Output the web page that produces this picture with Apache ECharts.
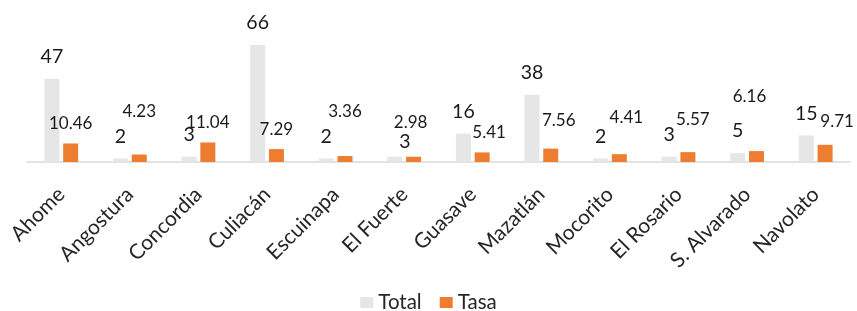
<!DOCTYPE html>
<html>
<head>
<meta charset="utf-8">
<script src="https://cdn.jsdelivr.net/npm/echarts@6/dist/echarts.min.js"></script>
<style>
  html, body { margin: 0; padding: 0; background: #fff; }
  #chart { width: 857px; height: 311px; }
</style>
</head>
<body>
<div id="chart"></div>
<script>
const municipios = ['Ahome', 'Angostura', 'Concordia', 'Culiacán', 'Escuinapa', 'El Fuerte',
  'Guasave', 'Mazatlán', 'Mocorito', 'El Rosario', 'S. Alvarado', 'Navolato']
const total = [47, 2, 3, 66, 2, 3, 16, 38, 2, 3, 5, 15]
const tasa = [10.46, 4.23, 11.04, 7.29, 3.36, 2.98, 5.41, 7.56, 4.41, 5.57, 6.16, 9.71]

// label nudges (the source labels were hand-placed)
const totalLabelShift = [[0, 0], [0, 0], [0, 0], [0, 0], [0, 0], [10, 7], [0, 0], [0, 0], [0, 0], [0, 0], [0, 0], [0, 0]]
const tasaLabelShift = [[0, 0], [0, -23], [0, 0], [0, 0], [0, -25], [-3, -15], [7, 0], [8, -9], [7, -17], [5, -13], [-7, -35], [12, -4]]

const FONT = 'Lato'

function withShift(values, shifts) {
  return values.map((v, i) => ({
    value: v,
    label: { offset: shifts[i] }
  }))
}

const chart = echarts.init(document.getElementById('chart'))

chart.setOption({
  animation: false,
  textStyle: { fontFamily: FONT },
  legend: {
    top: 287,
    left: 'center',
    itemWidth: 13,
    itemHeight: 11,
    itemGap: 18,
    icon: 'rect',
    textStyle: { fontFamily: FONT, fontSize: 20.5, color: '#262626' },
    data: ['Total', 'Tasa']
  },
  grid: { left: 27, right: 7, top: 38, bottom: 149 },
  xAxis: {
    type: 'category',
    data: municipios,
    axisLine: { lineStyle: { color: '#d9d9d9', width: 1.5 } },
    axisTick: { show: false },
    axisLabel: {
      rotate: 45,
      interval: 0,
      margin: 29,
      fontFamily: FONT,
      fontSize: 21,
      color: '#262626'
    }
  },
  yAxis: {
    type: 'value',
    min: 0,
    max: 70,
    show: false,
    splitLine: { show: false }
  },
  series: [
    {
      name: 'Total',
      type: 'bar',
      barWidth: 15,
      barGap: '25%',
      data: withShift(total, totalLabelShift),
      itemStyle: { color: '#e7e6e6' },
      label: {
        show: true,
        position: 'top',
        distance: 12,
        fontFamily: FONT,
        fontSize: 19.5,
        color: '#1a1a1a'
      }
    },
    {
      name: 'Tasa',
      type: 'bar',
      barWidth: 15,
      data: withShift(tasa, tasaLabelShift),
      itemStyle: { color: '#ed7d31' },
      label: {
        show: true,
        position: 'top',
        distance: 11,
        fontFamily: FONT,
        fontSize: 17,
        color: '#1a1a1a',
        formatter: (p) => p.value.toFixed(2)
      }
    }
  ]
})
</script>
</body>
</html>
